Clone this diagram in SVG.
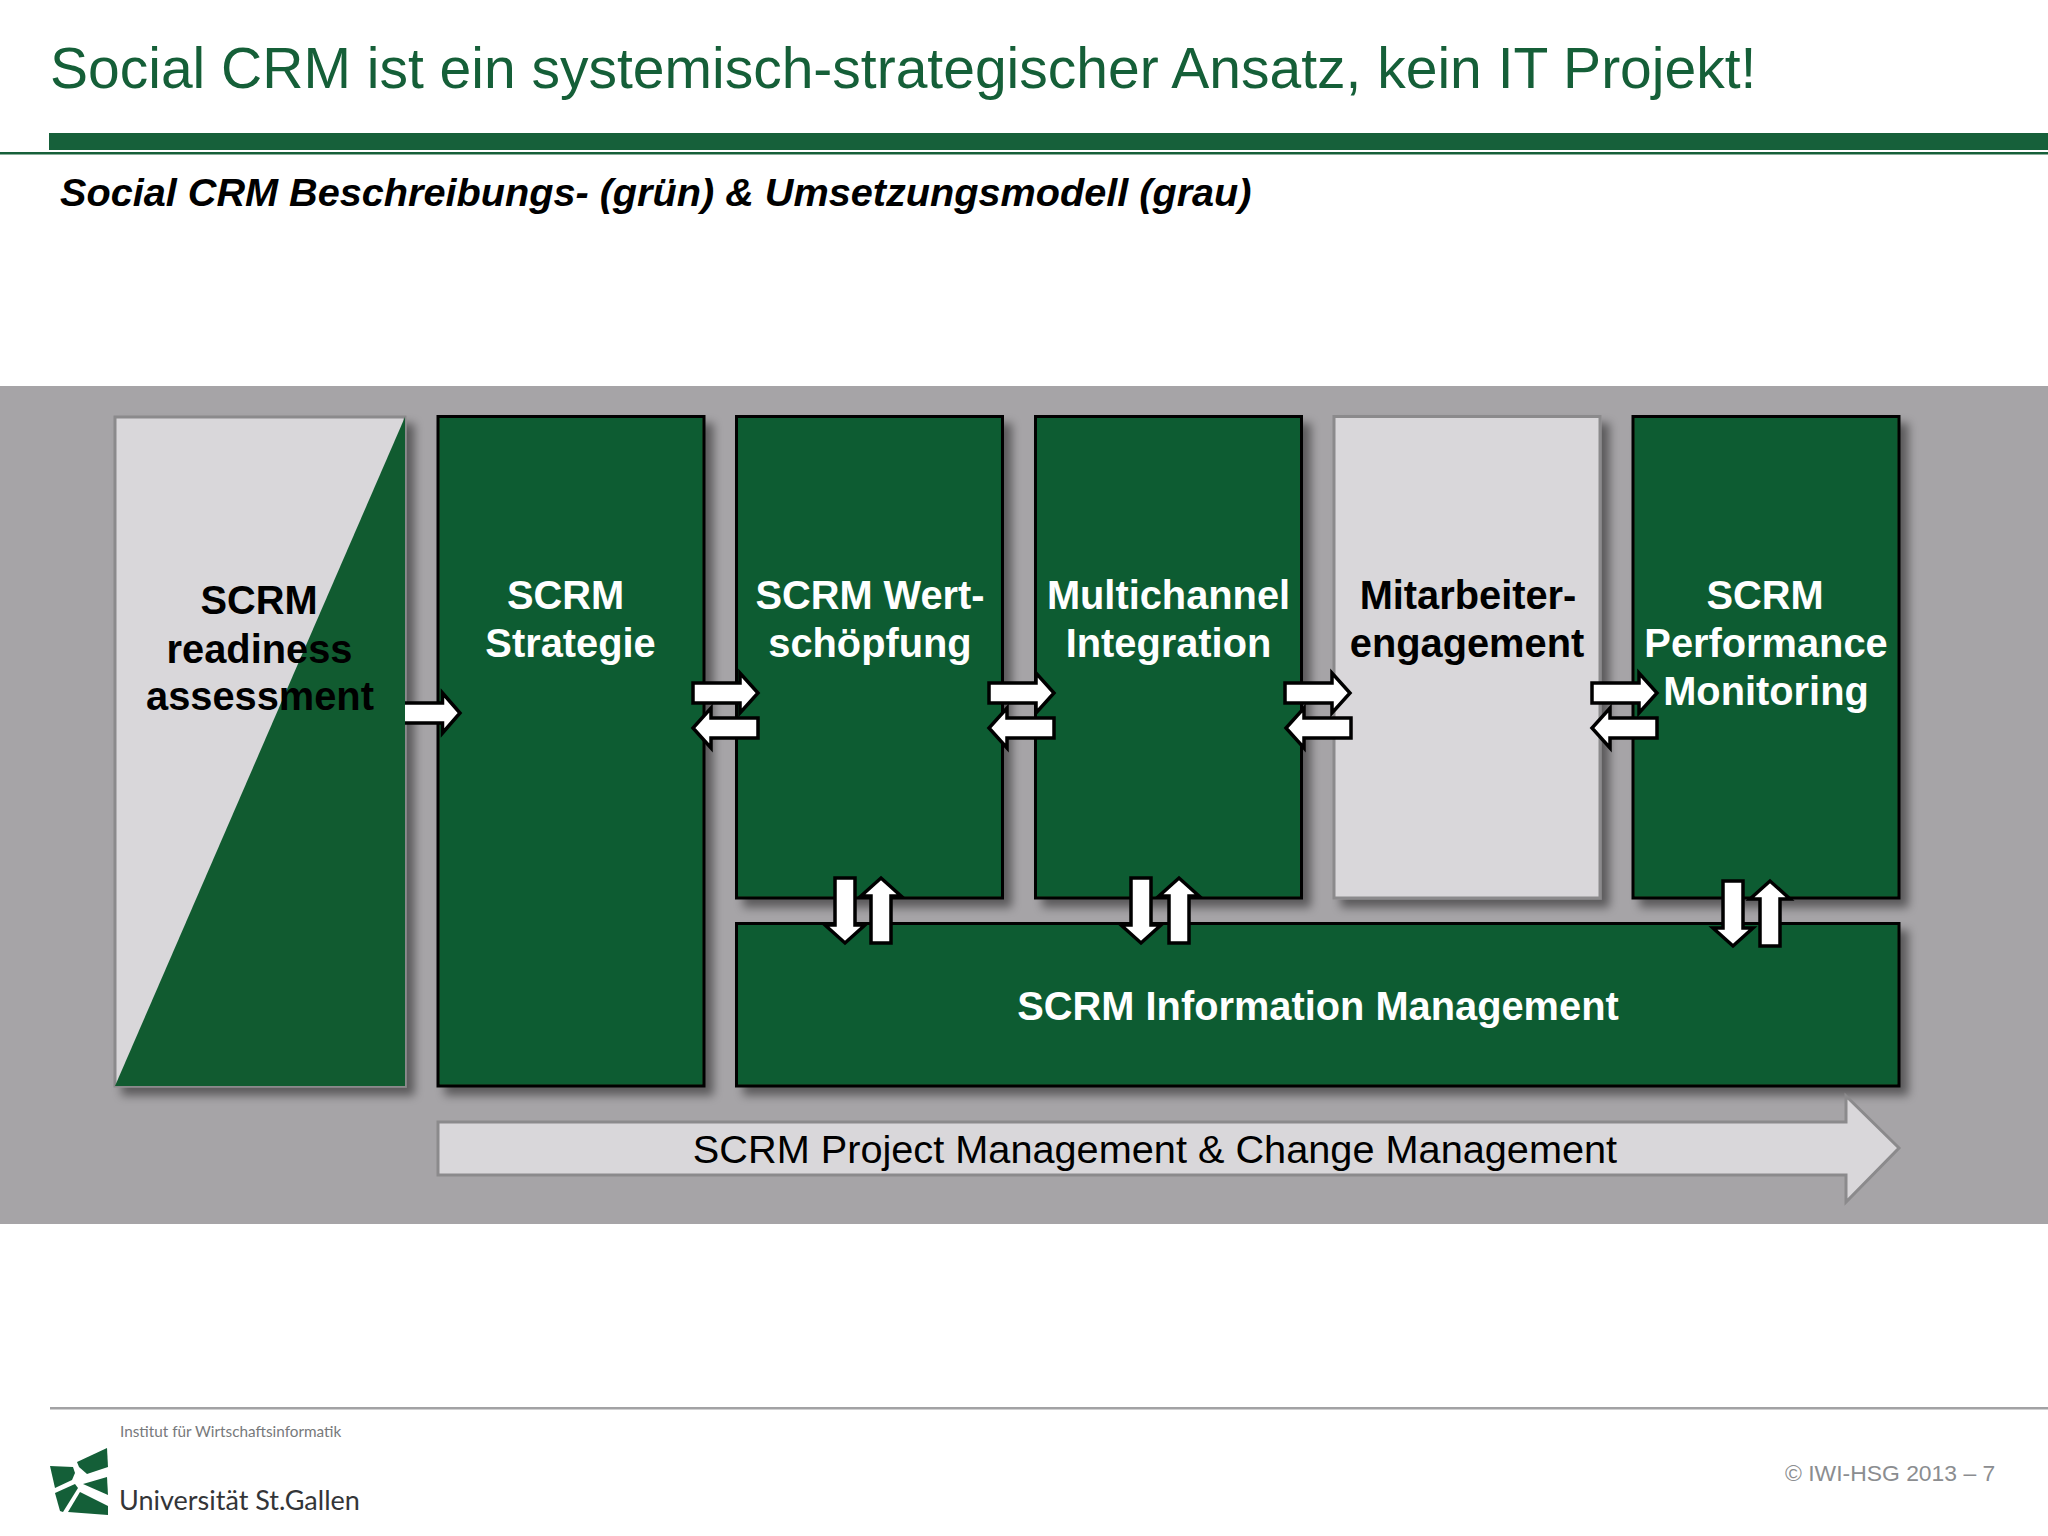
<svg xmlns="http://www.w3.org/2000/svg" width="2048" height="1536" viewBox="0 0 2048 1536">
<style>
text{font-family:"Liberation Sans",Arial,sans-serif}
.g{fill:#115b30;stroke:#000;stroke-width:3}
.l{fill:#d9d7da;stroke:#8b8a8c;stroke-width:3}
.tw{fill:#fff;font-size:39.8px;font-weight:bold;text-anchor:middle}
.tb{fill:#000;font-size:39.8px;font-weight:bold;text-anchor:middle}
.a{fill:#fff;stroke:#000;stroke-width:3.5}
</style>
<defs>
<filter id="sh" x="-10%" y="-10%" width="125%" height="125%"><feDropShadow dx="8" dy="8" stdDeviation="5" flood-color="#000" flood-opacity="0.45"/></filter>
<path id="ar" class="a" d="M0,-10H47V-20L65,0L47,20V10H0Z"/>
</defs>
<rect width="2048" height="1536" fill="#fff"/>
<g id="header">
<text x="50" y="88" font-size="57" fill="#155f38">Social CRM ist ein systemisch-strategischer Ansatz, kein IT Projekt!</text>
<rect x="49" y="133" width="1999" height="17" fill="#16603a"/>
<rect x="0" y="152" width="2048" height="2.5" fill="#16603a"/>
<text x="60" y="206" font-size="39.65" font-weight="bold" font-style="italic" fill="#000">Social CRM Beschreibungs- (grün) &amp; Umsetzungsmodell (grau)</text>
</g>
<rect id="panel" x="0" y="386" width="2048" height="838" fill="#a6a4a7"/>
<g id="n-readiness">
<rect class="l" x="115" y="417" width="290" height="669" filter="url(#sh)"/>
<polygon points="405,417 405,1086 115,1086" fill="#115b30"/>
<text class="tb" x="259" y="614">SCRM</text><text class="tb" x="259.500" y="663">readiness</text><text class="tb" x="260" y="710">assessment</text>
</g>
<g id="n-strategie">
<rect class="g" x="438" y="416.500" width="266" height="669.500" filter="url(#sh)"/>
<text class="tw" x="565.500" y="609">SCRM</text><text class="tw" x="570.500" y="657">Strategie</text>
</g>
<g id="n-wert">
<rect class="g" x="736.500" y="416.500" width="266" height="481.500" filter="url(#sh)"/>
<text class="tw" x="870" y="609">SCRM Wert-</text><text class="tw" x="870" y="657">schöpfung</text>
</g>
<g id="n-multichannel">
<rect class="g" x="1035.500" y="416.500" width="266" height="481.500" filter="url(#sh)"/>
<text class="tw" x="1168.500" y="609">Multichannel</text><text class="tw" x="1168.500" y="657">Integration</text>
</g>
<g id="n-mitarbeiter">
<rect class="l" x="1334" y="416.500" width="266" height="481.500" filter="url(#sh)"/>
<text class="tb" x="1468" y="609">Mitarbeiter-</text><text class="tb" x="1467" y="657">engagement</text>
</g>
<g id="n-performance">
<rect class="g" x="1633" y="416.500" width="266" height="481.500" filter="url(#sh)"/>
<text class="tw" x="1765" y="609">SCRM</text><text class="tw" x="1766" y="657">Performance</text><text class="tw" x="1766" y="705">Monitoring</text>
</g>
<g id="n-information">
<rect class="g" x="736.500" y="923.500" width="1162.500" height="162.500" filter="url(#sh)"/>
<text class="tw" x="1318" y="1020">SCRM Information Management</text>
</g>
<g id="n-project">
<polygon class="l" points="438,1122 1846,1122 1846,1096 1899,1148 1846,1202 1846,1175 438,1175"/>
<text x="1155" y="1163" font-size="39.7" fill="#000" text-anchor="middle">SCRM Project Management &amp; Change Management</text>
</g>
<g id="connectors">
<path class="a" d="M405,703H442.500V693L460,713L442.500,733V723H405"/>
<use href="#ar" transform="translate(693,693)"/>
<use href="#ar" transform="translate(758,728) scale(-1,1)"/>
<use href="#ar" transform="translate(989,693)"/>
<use href="#ar" transform="translate(1054,728) scale(-1,1)"/>
<use href="#ar" transform="translate(1285,693)"/>
<use href="#ar" transform="translate(1351,728) scale(-1,1)"/>
<use href="#ar" transform="translate(1592,693)"/>
<use href="#ar" transform="translate(1657,728) scale(-1,1)"/>
<use href="#ar" transform="translate(845,878) rotate(90)"/>
<use href="#ar" transform="translate(881,943) rotate(-90)"/>
<use href="#ar" transform="translate(1141,878) rotate(90)"/>
<use href="#ar" transform="translate(1179,943) rotate(-90)"/>
<use href="#ar" transform="translate(1733,881) rotate(90)"/>
<use href="#ar" transform="translate(1770,946) rotate(-90)"/>
</g>
<g id="footer">
<rect x="50" y="1407" width="1998" height="2.500" fill="#a2a2a4"/>
<text x="120" y="1437" font-size="15.300" fill="#77797b" style="font-family:Lato,sans-serif">Institut für Wirtschaftsinformatik</text>
<g fill="#145f38">
<polygon points="77,1462 107,1448 108,1467 87,1474 79,1467"/>
<polygon points="50,1466 73,1467 75,1473 72,1480 55,1488"/>
<polygon points="83,1484 107,1477 108,1495"/>
<polygon points="55,1493 75,1484 78,1488 63,1512 60,1511"/>
<polygon points="80,1492 108,1506 108,1515 68,1512"/>
</g>
<text x="119" y="1510" font-size="27" fill="#333538" style="font-family:Lato,sans-serif">Universität St.Gallen</text>
<text x="1785" y="1481" font-size="22.9" fill="#8b8d90">© IWI-HSG 2013 – 7</text>
</g>
</svg>
